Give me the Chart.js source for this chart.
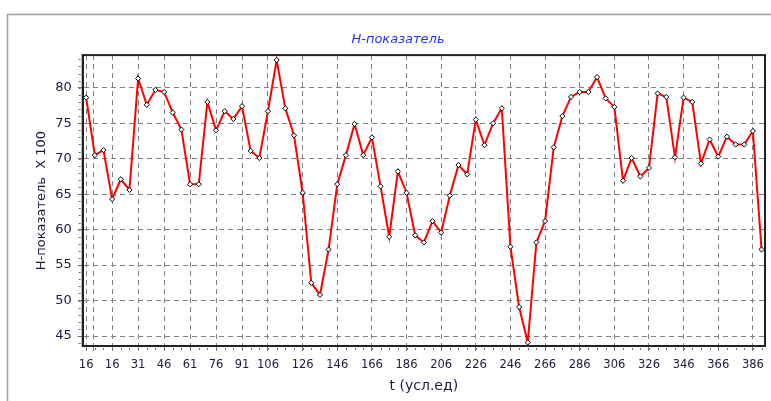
<!DOCTYPE html>
<html><head><meta charset="utf-8">
<script src="https://cdn.jsdelivr.net/npm/chart.js@4.4.0/dist/chart.umd.min.js"></script>
<style>
html,body{margin:0;padding:0;background:#fff;}
#wrap{position:relative;width:771px;height:401px;}
canvas{display:block;}
</style></head><body>
<div id="wrap"><canvas id="c" width="771" height="401"></canvas></div>
<script>
const chartTitle = 'H-показатель';
const yAxisTitle = 'H-показатель  X 100';
const xAxisTitle = 't (усл.ед)';

const tValues = [1, 6, 11, 16, 21, 26, 31, 36, 41, 46, 51, 56, 61, 66, 71, 76, 81, 86, 91, 96,
  101, 106, 111, 116, 121, 126, 131, 136, 141, 146, 151, 156, 161, 166, 171, 176, 181, 186, 191, 196,
  201, 206, 211, 216, 221, 226, 231, 236, 241, 246, 251, 256, 261, 266, 271, 276, 281, 286, 291, 296,
  301, 306, 311, 316, 321, 326, 331, 336, 341, 346, 351, 356, 361, 366, 371, 376, 381, 386, 391];

const hValues = [78.6, 70.5, 71.2, 64.3, 67.1, 65.6, 81.3, 77.6, 79.7, 79.4,
  76.5, 74.1, 66.4, 66.4, 78.0, 74.0, 76.7, 75.6, 77.4, 71.1,
  70.1, 76.7, 83.9, 77.1, 73.3, 65.2, 52.5, 50.8, 57.2, 66.4,
  70.5, 74.9, 70.5, 73.0, 66.1, 59.0, 68.2, 65.2, 59.2, 58.2,
  61.2, 59.6, 64.8, 69.1, 67.8, 75.5, 71.9, 75.0, 77.1, 57.6,
  49.1, 44.1, 58.2, 61.2, 71.6, 76.0, 78.7, 79.4, 79.4, 81.5,
  78.5, 77.3, 66.9, 70.1, 67.5, 68.7, 79.2, 78.7, 70.2, 78.6,
  78.0, 69.3, 72.7, 70.3, 73.1, 72.0, 72.0, 73.9, 57.2];

const xTickValues = [1, 5, 16, 31, 46, 61, 76, 91, 106, 126, 146, 166, 186, 206, 226, 246, 266, 286, 306, 326, 346, 366, 386];
const xTickLabels = ['16', '', '16', '31', '46', '61', '76', '91', '106', '126', '146', '166', '186', '206', '226', '246', '266', '286', '306', '326', '346', '366', '386'];
const yTickValues = [45, 50, 55, 60, 65, 70, 75, 80];
const xRange = [-1, 393];
const yRange = [43.6, 84.6];

const FONT = "'DejaVu Sans', Verdana, sans-serif";

const decor = {
  id: 'decor',
  beforeDraw(chart) {
    const ctx = chart.ctx;
    ctx.save();
    ctx.fillStyle = '#fff';
    ctx.fillRect(0, 0, chart.width, chart.height);
    ctx.strokeStyle = '#a0a0a0';
    ctx.lineWidth = 1.5;
    ctx.beginPath();
    ctx.moveTo(7.5, chart.height);
    ctx.lineTo(7.5, 14.5);
    ctx.lineTo(chart.width, 14.5);
    ctx.stroke();
    ctx.restore();
  },
  beforeDatasetsDraw(chart) {
    const ctx = chart.ctx;
    const a = chart.chartArea;
    const xs = chart.scales.x, ys = chart.scales.y;
    ctx.save();
    ctx.strokeStyle = '#666';
    ctx.lineWidth = 1;
    ctx.beginPath();
    for (let v = Math.ceil(yRange[0]); v <= yRange[1]; v++) {
      const y = Math.round(ys.getPixelForValue(v)) + 0.5;
      ctx.moveTo(a.left - 4, y);
      ctx.lineTo(a.left - 2, y);
    }
    for (let i = 0; i < tValues.length; i++) {
      const x = Math.round(xs.getPixelForValue(tValues[i])) + 0.5;
      ctx.moveTo(x, a.bottom + 2);
      ctx.lineTo(x, a.bottom + 4);
    }
    ctx.stroke();
    ctx.strokeStyle = '#222';
    ctx.lineWidth = 2;
    ctx.strokeRect(a.left, a.top, a.right - a.left, a.bottom - a.top);
    ctx.restore();
  }
};

new Chart(document.getElementById('c'), {
  type: 'line',
  data: {
    datasets: [{
      data: tValues.map((t, i) => ({x: t, y: hValues[i]})),
      borderColor: '#ff0000',
      borderWidth: 2,
      tension: 0,
      pointStyle: 'rectRot',
      pointRadius: 2.6,
      pointBackgroundColor: '#ffffff',
      pointBorderColor: '#000000',
      pointBorderWidth: 1
    }]
  },
  options: {
    responsive: false,
    animation: false,
    devicePixelRatio: 1,
    layout: {padding: {left: 31, right: 6, top: 0, bottom: 0}},
    plugins: {
      legend: {display: false},
      tooltip: {enabled: false},
      title: {
        display: true,
        text: chartTitle,
        color: '#2233ff',
        font: {family: FONT, size: 13, style: 'italic', weight: 'normal', lineHeight: 1.2},
        padding: {top: 32, bottom: 7.5}
      }
    },
    scales: {
      x: {
        type: 'linear',
        min: xRange[0], max: xRange[1],
        afterBuildTicks: s => { s.ticks = xTickValues.map(v => ({value: v})); },
        afterFit: s => { s.height = 55; },
        ticks: {autoSkip: false, maxRotation: 0, minRotation: 0, padding: 7, color: '#1a1a3a',
          font: {family: FONT, size: 11.5},
          callback: (v, i) => xTickLabels[i]},
        grid: {color: '#808080', lineWidth: 1, tickLength: 5, tickColor: '#808080'},
        border: {display: true, color: '#222', width: 2, dash: [5, 4]},
        title: {display: true, text: xAxisTitle, color: '#1a1a3a', font: {family: FONT, size: 14, lineHeight: 1.2},
          padding: {top: 0, bottom: 6.6}}
      },
      y: {
        type: 'linear',
        min: yRange[0], max: yRange[1],
        afterBuildTicks: s => { s.ticks = yTickValues.map(v => ({value: v})); },
        afterFit: s => { s.width = 51.7; },
        ticks: {padding: 6, color: '#1a1a3a', font: {family: FONT, size: 13}, callback: v => String(v)},
        grid: {color: '#808080', lineWidth: 1, tickLength: 5, tickColor: '#808080'},
        border: {display: true, color: '#222', width: 2, dash: [5, 4]},
        title: {display: true, text: yAxisTitle, color: '#1a1a3a', font: {family: FONT, size: 13, lineHeight: 1.2},
          padding: {top: 2.7, bottom: 0}}
      }
    }
  },
  plugins: [decor]
});
</script>
</body></html>
